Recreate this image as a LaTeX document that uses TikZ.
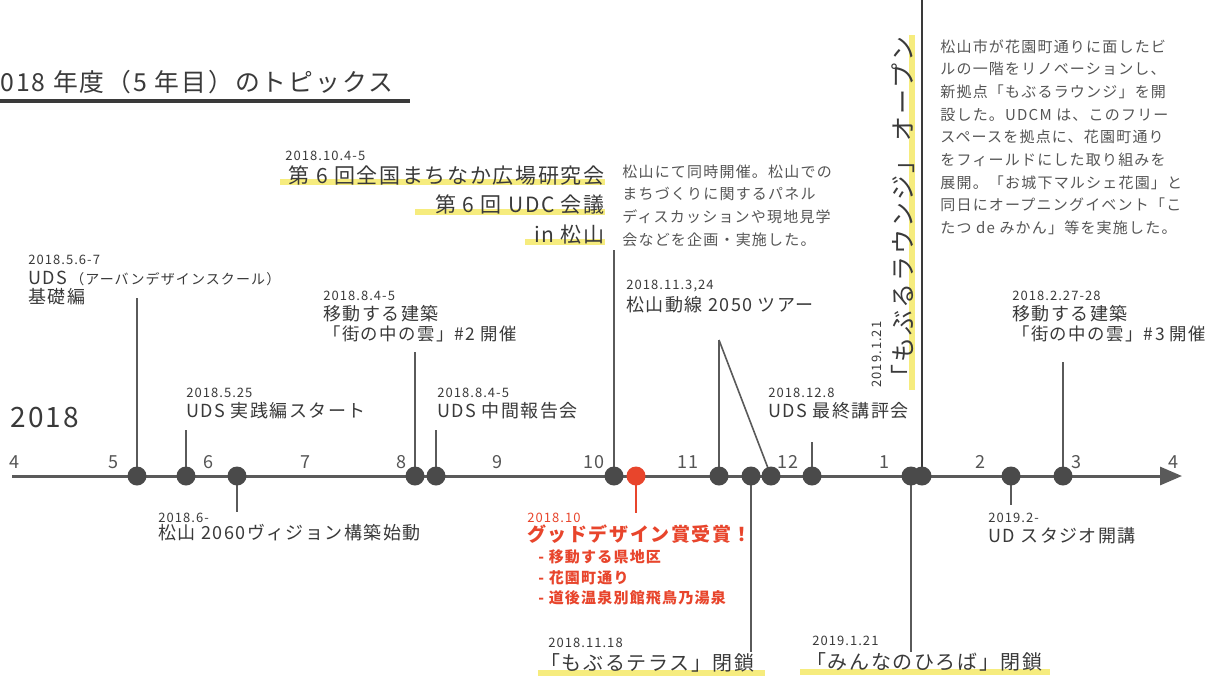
\documentclass[tikz,border=0pt]{standalone}
\usepackage{fontspec}
\newfontfamily\jp[LetterSpace=8]{Noto Sans CJK JP}
\usetikzlibrary{arrows.meta}
\definecolor{ink}{HTML}{3A3A3A}
\definecolor{txt}{HTML}{555555}
\definecolor{linec}{HTML}{5A5A5A}
\definecolor{dotc}{HTML}{4A4A4A}
\definecolor{redc}{HTML}{E8452C}
\definecolor{hl}{HTML}{F6EC7E}
\begin{document}
\begin{tikzpicture}[x=0.5pt,y=-0.5pt,
  lbl/.style={inner sep=0, anchor=west, font=\jp\fontsize{9}{11}\selectfont, text=ink},
  biglbl/.style={inner sep=0, anchor=east, font=\jp\fontsize{10.5}{12}\selectfont, text=ink},
  botlbl/.style={inner sep=0, anchor=west, font=\jp\fontsize{10}{12}\selectfont, text=ink},
  datelbl/.style={inner sep=0, anchor=west, font=\jp\fontsize{6.5}{8}\selectfont, text=ink},
  desc/.style={inner sep=0, anchor=north west, align=left, font=\jp\fontsize{7.5}{11.35}\selectfont, text=txt},
  mon/.style={inner sep=0, font=\jp\fontsize{9}{10}\selectfont, text=txt},
  evdot/.style={circle, fill=dotc, minimum size=9.5pt, inner sep=0},
  reddot/.style={circle, fill=redc, minimum size=9.5pt, inner sep=0},
  lead/.style={draw=linec, line width=0.8pt},
  hlt/.style={draw=hl, line width=2.6pt},
  axisline/.style={draw=linec, line width=1.5pt, -{Triangle[length=11pt,width=9pt]}},
]
\useasboundingbox[fill=white] (0,0) rectangle (1209,676);

% highlights
\coordinate (h1a) at (280,182); \coordinate (h1b) at (605,182);
\coordinate (h2a) at (415,212); \coordinate (h2b) at (605,212);
\coordinate (h3a) at (525,242); \coordinate (h3b) at (605,242);
\coordinate (h4a) at (912,35);  \coordinate (h4b) at (912,390);
\coordinate (h5a) at (538,673); \coordinate (h5b) at (765,673);
\coordinate (h6a) at (800,672); \coordinate (h6b) at (1050,672);
\draw[hlt] (h1a) -- (h1b);
\draw[hlt] (h2a) -- (h2b);
\draw[hlt] (h3a) -- (h3b);
\draw[hlt] (h4a) -- (h4b);
\draw[hlt] (h5a) -- (h5b);
\draw[hlt] (h6a) -- (h6b);

% title
\node[inner sep=0, anchor=west, font=\jp\fontsize{12.4}{14}\selectfont, text=ink] (ttl) at (0,82) {018 年度（5 年目）のトピックス};
\coordinate (ul0) at (0,101); \coordinate (ul1) at (410,101);
\draw[draw=ink, line width=2pt] (ul0) -- (ul1);

% year
\node[inner sep=0, anchor=west, font=\jp\fontsize{14}{16}\selectfont, text=ink] (yr) at (10,418) {2018};

% months
\foreach \x/\m [count=\i] in {14/4,113/5,208/6,305/7,401/8,497/9,594/10,688/11,788/12,884/1,980/2,1076/3,1173/4}
  \node[mon] (m\i) at (\x,462) {\m};

% axis
\coordinate (a0) at (12,476); \coordinate (a1) at (1182,476);
\draw[axisline] (a0) -- (a1);

% dot positions
\foreach \n/\x in {1/137,2/186,3/237,4/415,5/436,6/614,7/636,8/719,9/751,10/771,11/812,12/911,13/922,14/1011,15/1063}
  \coordinate (p\n) at (\x,476);

% leader ends
\coordinate (t1) at (137,298);
\coordinate (t2) at (186,430);
\coordinate (t3) at (237,512);
\coordinate (t4) at (415,352);
\coordinate (t5) at (436,430);
\coordinate (t6) at (614,250);
\coordinate (t7) at (636,513);
\coordinate (t8) at (719,340);
\coordinate (t9) at (751,652);
\coordinate (t11) at (812,442);
\coordinate (t12) at (911,652);
\coordinate (t13) at (922,0);
\coordinate (t14) at (1011,505);
\coordinate (t15) at (1063,362);

\draw[lead] (p1) -- (t1);
\draw[lead] (p2) -- (t2);
\draw[lead] (p3) -- (t3);
\draw[lead] (p4) -- (t4);
\draw[lead] (p5) -- (t5);
\draw[lead] (p6) -- (t6);
\draw[draw=redc, line width=0.8pt] (p7) -- (t7);
\draw[lead] (p8) -- (t8);
\draw[lead] (t8) -- (p10);
\draw[lead] (p9) -- (t9);
\draw[lead] (p11) -- (t11);
\draw[lead] (p12) -- (t12);
\draw[draw=ink, line width=1.3pt] (p13) -- (t13);
\draw[lead] (p14) -- (t14);
\draw[lead] (p15) -- (t15);

% dots
\foreach \n in {1,2,3,4,5,6,8,9,10,11,12,13,14,15}
  \node[evdot] (d\n) at (p\n) {};
\node[reddot] (d7) at (p7) {};

% upper labels
\node[datelbl] (e1d) at (28,260) {2018.5.6-7};
\node[lbl] (e1a) at (28,278) {UDS\,{\fontsize{7}{8}\selectfont（アーバンデザインスクール）}};
\node[lbl] (e1b) at (28,297) {基礎編};

\node[datelbl] (e4d) at (323,296) {2018.8.4-5};
\node[lbl] (e4a) at (323,314) {移動する建築};
\node[lbl, font=\jp\fontsize{8.7}{11}\selectfont] (e4b) at (323,334) {「街の中の雲」\#2 開催};

\node[datelbl] (e2d) at (186,393) {2018.5.25};
\node[lbl] (e2a) at (186,411) {UDS 実践編スタート};

\node[datelbl] (e5d) at (437,393) {2018.8.4-5};
\node[lbl] (e5a) at (437,411) {UDS 中間報告会};

\node[datelbl] (e6d) at (285,156) {2018.10.4-5};
\node[biglbl] (e6a) at (605,175) {第 6 回全国まちなか広場研究会};
\node[biglbl] (e6b) at (605,205) {第 6 回 UDC 会議};
\node[biglbl] (e6c) at (605,235) {in 松山};
\node[desc] (e6t) at (622,164) {松山にて同時開催。松山での\\まちづくりに関するパネル\\ディスカッションや現地見学\\会などを企画・実施した。};

\node[datelbl] (e8d) at (626,286) {2018.11.3,24};
\node[lbl] (e8a) at (626,305) {松山動線 2050 ツアー};

\node[datelbl] (e11d) at (768,393) {2018.12.8};
\node[lbl] (e11a) at (768,411) {UDS 最終講評会};

\node[datelbl] (e15d) at (1012,296) {2018.2.27-28};
\node[lbl] (e15a) at (1012,314) {移動する建築};
\node[lbl, font=\jp\fontsize{8.7}{11}\selectfont] (e15b) at (1012,334) {「街の中の雲」\#3 開催};

% vertical label
\node[inner sep=0, rotate=90, anchor=south west, font=\jp\fontsize{12.5}{14}\selectfont, text=ink] (e13a) at (915,390) {「もぶるラウンジ」 オープン};
\node[inner sep=0, rotate=90, anchor=south west, font=\jp\fontsize{6.5}{8}\selectfont, text=ink] (e13d) at (882,388) {2019.1.21};
\node[desc] (e13t) at (940,39) {松山市が花園町通りに面したビ\\ルの一階をリノベーションし、\\新拠点「もぶるラウンジ」を開\\設した。UDCM は、このフリー\\スペースを拠点に、花園町通り\\をフィールドにした取り組みを\\展開。「お城下マルシェ花園」と\\同日にオープニングイベント「こ\\たつ de みかん」等を実施した。};

% lower labels
\node[datelbl] (e3d) at (158,518) {2018.6-};
\node[lbl] (e3a) at (158,533) {松山 2060ヴィジョン構築始動};

\node[datelbl, text=redc] (e7d) at (527,518) {2018.10};
\node[inner sep=0, anchor=west, font=\jp\bfseries\fontsize{9.5}{11}\selectfont, text=redc] (e7a) at (527,534) {グッドデザイン賞受賞！};
\node[inner sep=0, anchor=west, font=\jp\bfseries\fontsize{7.5}{9}\selectfont, text=redc] (e7b) at (538,557) {- 移動する県地区};
\node[inner sep=0, anchor=west, font=\jp\bfseries\fontsize{7.5}{9}\selectfont, text=redc] (e7c) at (538,578) {- 花園町通り};
\node[inner sep=0, anchor=west, font=\jp\bfseries\fontsize{7.5}{9}\selectfont, text=redc] (e7e) at (538,598) {- 道後温泉別館飛鳥乃湯泉};

\node[datelbl] (e14d) at (988,518) {2019.2-};
\node[lbl] (e14a) at (988,536) {UD スタジオ開講};

\node[datelbl] (e9d) at (548,643) {2018.11.18};
\node[botlbl] (e9a) at (540,663) {「もぶるテラス」閉鎖};

\node[datelbl] (e12d) at (812,641) {2019.1.21};
\node[botlbl] (e12a) at (806,662) {「みんなのひろば」閉鎖};
\end{tikzpicture}
\end{document}
